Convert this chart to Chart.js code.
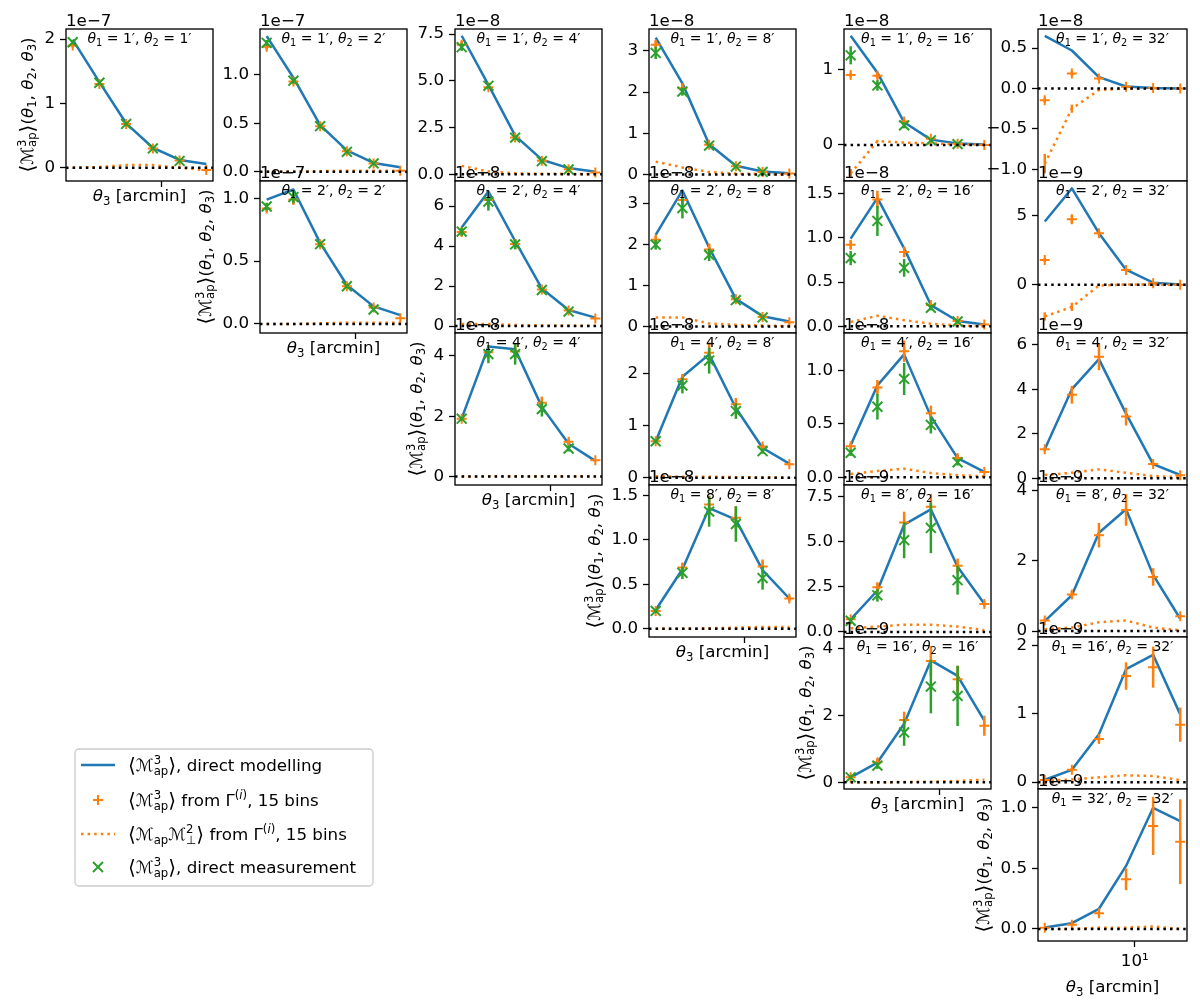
<!DOCTYPE html>
<html lang="en">
<head>
  <meta charset="utf-8" />
  <title>Map3 from Gamma vs direct modelling</title>
  <script src="https://cdn.jsdelivr.net/npm/chart.js@4.4.1/dist/chart.umd.min.js"></script>
  <style>
    body { margin: 0; background: #fff; }
    #fig { position: relative; width: 1200px; height: 1008px; overflow: hidden; background: #fff; }
    #fig canvas { position: absolute; }
  </style>
</head>
<body>
<div id="fig"></div>
<script>
// ---- data (values in units of the panel offset 1e-N) ----
const theta3 = [1, 2, 4, 8, 16, 32];
const panelThetas = [[1,1],[1,2],[1,4],[1,8],[1,16],[1,32],
                     [2,2],[2,4],[2,8],[2,16],[2,32],
                     [4,4],[4,8],[4,16],[4,32],
                     [8,8],[8,16],[8,32],
                     [16,16],[16,32],
                     [32,32]];
const offsetExp = [7,7,8,8,8,8, 7,8,8,8,9, 8,8,8,9, 8,9,9, 9,9, 9];

const yTickLabels = [
  ['0','1','2'], ['0.0','0.5','1.0'], ['0.0','2.5','5.0','7.5'], ['0','1','2','3'], ['0','1'], ['−1.0','−0.5','0.0','0.5'],
  ['0.0','0.5','1.0'], ['0','2','4','6'], ['0','1','2','3'], ['0.0','0.5','1.0','1.5'], ['0','5'],
  ['0','2','4'], ['0','1','2'], ['0.0','0.5','1.0'], ['0','2','4','6'],
  ['0.0','0.5','1.0','1.5'], ['0.0','2.5','5.0','7.5'], ['0','2','4'],
  ['0','2','4'], ['0','1','2'],
  ['0.0','0.5','1.0']
];
const yLimits = [
  [-0.207, 2.156], [-0.096, 1.473], [-0.36, 7.77], [-0.16, 3.53], [-0.48, 1.54], [-1.145, 0.736],
  [-0.072, 1.138], [-0.35, 7.25], [-0.16, 3.54], [-0.075, 1.64], [-3.5, 7.54],
  [-0.28, 4.76], [-0.14, 2.78], [-0.072, 1.35], [-0.3, 6.52],
  [-0.094, 1.62], [-0.28, 8.15], [-0.17, 4.16],
  [-0.2, 4.34], [-0.1, 2.12],
  [-0.1, 1.155]
];

// <Map^3>, direct modelling
const modelVals = [
  [1.99, 1.33, 0.69, 0.31, 0.12, 0.057],
  [1.40, 0.97, 0.48, 0.22, 0.09, 0.045],
  [7.41, 4.78, 2.07, 0.78, 0.33, 0.14],
  [3.32, 2.21, 0.73, 0.21, 0.07, 0.03],
  [1.45, 0.96, 0.30, 0.07, 0.02, 0.005],
  [0.65, 0.47, 0.14, 0.025, 0.006, 0.001],
  [0.99, 1.07, 0.645, 0.31, 0.14, 0.07],
  [4.93, 6.72, 4.25, 1.87, 0.80, 0.42],
  [2.23, 3.31, 1.92, 0.67, 0.25, 0.12],
  [0.99, 1.45, 0.88, 0.24, 0.06, 0.02],
  [4.6, 7.0, 3.75, 1.1, 0.15, 0.02],
  [1.93, 4.31, 4.22, 2.31, 1.09, 0.52],
  [0.70, 1.94, 2.37, 1.34, 0.57, 0.27],
  [0.30, 0.86, 1.15, 0.57, 0.18, 0.05],
  [1.30, 4.0, 5.35, 2.9, 0.64, 0.15],
  [0.21, 0.67, 1.36, 1.23, 0.66, 0.34],
  [0.7, 2.3, 5.95, 6.8, 3.62, 1.57],
  [0.28, 1.02, 2.8, 3.47, 1.6, 0.35],
  [0.15, 0.59, 1.75, 3.64, 3.18, 1.84],
  [0.035, 0.18, 0.70, 1.65, 1.86, 0.99],
  [0.012, 0.047, 0.166, 0.52, 1.0, 0.89]
];
// <Map^3> from Gamma, 15 bins
const gammaVals = [
  [1.90, 1.30, 0.68, 0.30, 0.11, -0.035],
  [1.29, 0.93, 0.47, 0.21, 0.085, 0.01],
  [6.93, 4.66, 1.96, 0.72, 0.27, 0.10],
  [3.15, 2.09, 0.72, 0.20, 0.06, 0.02],
  [0.93, 0.92, 0.31, 0.08, 0.015, 0.0],
  [-0.145, 0.186, 0.124, 0.02, 0.005, 0.0],
  [0.92, 0.99, 0.635, 0.30, 0.13, 0.045],
  [4.7, 6.3, 4.1, 1.82, 0.78, 0.37],
  [2.11, 3.08, 1.87, 0.66, 0.23, 0.10],
  [0.92, 1.43, 0.84, 0.24, 0.06, 0.02],
  [1.8, 4.76, 3.74, 1.08, 0.12, 0.0],
  [1.92, 4.12, 4.15, 2.45, 1.15, 0.54],
  [0.70, 1.89, 2.40, 1.41, 0.60, 0.26],
  [0.29, 0.84, 1.18, 0.60, 0.18, 0.05],
  [1.30, 3.75, 5.45, 2.77, 0.64, 0.14],
  [0.20, 0.69, 1.40, 1.25, 0.70, 0.34],
  [0.70, 2.48, 6.07, 6.95, 3.67, 1.55],
  [0.30, 1.04, 2.73, 3.45, 1.54, 0.42],
  [0.15, 0.60, 1.86, 3.62, 3.08, 1.69],
  [0.03, 0.18, 0.63, 1.55, 1.68, 0.84],
  [0.01, 0.035, 0.13, 0.41, 0.85, 0.72]
];
const gammaErr = [
  [0.03,0.03,0.02,0.01,0.01,0.005],
  [0.03,0.03,0.01,0.01,0.005,0.005],
  [0.2,0.15,0.1,0.05,0.02,0.01],
  [0.1,0.1,0.04,0.02,0.01,0.005],
  [0.03,0.04,0.03,0.01,0.005,0.002],
  [0.03,0.03,0.02,0.01,0.005,0.002],
  [0.03,0.04,0.03,0.02,0.01,0.005],
  [0.2,0.35,0.25,0.1,0.05,0.02],
  [0.1,0.12,0.15,0.05,0.03,0.01],
  [0.05,0.1,0.06,0.03,0.01,0.005],
  [0.15,0.3,0.2,0.1,0.05,0.02],
  [0.05,0.2,0.25,0.2,0.1,0.03],
  [0.03,0.1,0.2,0.12,0.05,0.02],
  [0.03,0.07,0.1,0.07,0.03,0.01],
  [0.1,0.4,0.6,0.4,0.1,0.05],
  [0.02,0.05,0.1,0.13,0.08,0.03],
  [0.1,0.25,0.6,0.7,0.4,0.15],
  [0.05,0.1,0.35,0.45,0.25,0.05],
  [0.03,0.1,0.25,0.45,0.4,0.3],
  [0.01,0.03,0.06,0.2,0.3,0.25],
  [0.005,0.01,0.03,0.09,0.24,0.35]
];
// <Map Mperp^2> from Gamma, 15 bins
const perpVals = [
  [0.0, 0.01, 0.04, 0.04, 0.0, -0.04],
  [0.0, 0.0, 0.005, 0.01, 0.01, 0.01],
  [0.45, 0.15, 0.05, 0.03, 0.02, 0.02],
  [0.31, 0.17, 0.06, 0.02, 0.01, 0.0],
  [-0.38, 0.05, 0.03, 0.02, 0.01, 0.0],
  [-0.93, -0.25, -0.02, 0.0, 0.0, 0.0],
  [0.0, 0.0, 0.005, 0.01, 0.01, 0.01],
  [0.1, 0.1, 0.05, 0.02, 0.02, 0.01],
  [0.22, 0.22, 0.07, 0.04, 0.02, 0.01],
  [0.05, 0.12, 0.07, 0.03, 0.01, 0.0],
  [-2.3, -1.6, -0.05, 0.02, 0.02, 0.0],
  [0.0, 0.01, 0.01, 0.01, 0.01, 0.01],
  [0.03, 0.02, 0.02, 0.01, 0.01, 0.0],
  [0.03, 0.06, 0.08, 0.04, 0.02, 0.01],
  [0.15, 0.25, 0.4, 0.25, 0.1, 0.05],
  [0.0, 0.0, 0.005, 0.01, 0.02, 0.02],
  [0.2, 0.3, 0.4, 0.4, 0.3, 0.1],
  [0.05, 0.1, 0.25, 0.3, 0.1, 0.02],
  [0.0, 0.0, 0.01, 0.02, 0.04, 0.08],
  [0.02, 0.04, 0.07, 0.1, 0.09, 0.03],
  [0.0, 0.0, 0.01, 0.01, 0.02, 0.0]
];
const perpErr = [
  null, null, null, null, [0.06,0.01,0,0,0,0], [0.12,0.05,0.01,0,0,0],
  null, null, null, null, [0.3,0.3,0.05,0,0,0],
  null, null, null, null,
  null, null, null,
  null, null,
  null
];
// <Map^3>, direct measurement (no measurement for theta2 = 32')
const measVals = [
  [1.95, 1.32, 0.68, 0.30, 0.105],
  [1.33, 0.94, 0.47, 0.205, 0.085],
  [6.80, 4.73, 1.96, 0.70, 0.26],
  [2.95, 2.01, 0.70, 0.19, 0.06],
  [1.19, 0.79, 0.26, 0.06, 0.01],
  null,
  [0.935, 1.01, 0.635, 0.30, 0.115],
  [4.72, 6.22, 4.08, 1.8, 0.72],
  [1.99, 2.88, 1.74, 0.64, 0.22],
  [0.77, 1.19, 0.66, 0.21, 0.055],
  null,
  [1.92, 4.06, 4.06, 2.24, 0.93],
  [0.70, 1.77, 2.25, 1.28, 0.51],
  [0.23, 0.66, 0.92, 0.49, 0.14],
  null,
  [0.20, 0.63, 1.32, 1.18, 0.57],
  [0.62, 2.03, 5.09, 5.77, 2.87],
  null,
  [0.15, 0.50, 1.49, 2.86, 2.58],
  null,
  null
];
const measErr = [
  [0.03,0.03,0.02,0.01,0.01],
  [0.03,0.03,0.02,0.01,0.005],
  [0.2,0.15,0.1,0.04,0.02],
  [0.15,0.1,0.04,0.02,0.01],
  [0.12,0.07,0.04,0.02,0.01],
  null,
  [0.03,0.05,0.02,0.01,0.01],
  [0.2,0.45,0.25,0.1,0.05],
  [0.12,0.25,0.15,0.05,0.03],
  [0.08,0.17,0.1,0.03,0.01],
  null,
  [0.05,0.3,0.35,0.25,0.1],
  [0.03,0.15,0.25,0.15,0.05],
  [0.03,0.12,0.15,0.08,0.03],
  null,
  [0.02,0.07,0.17,0.2,0.13],
  [0.15,0.35,1.0,1.4,0.8],
  null,
  [0.05,0.1,0.4,0.8,0.9],
  null,
  null
];

// ---- styling / layout ----
const BLUE = '#1f77b4', ORANGE = '#ff7f0e', GREEN = '#2ca02c';
const FAMILY = '"DejaVu Sans", sans-serif';
const FS = 16.7;          // 10pt
const FS_SMALL = 14;      // panel annotation
const PAD_L = 80, PAD_R = 6, PAD_T = 24, PAD_B = 62;
const PW = 150, PH = 152;
const DOTS = [2.5, 4.1];

// matplotlib-like 5% margins on a log axis
const lgLo = Math.log10(theta3[0]), lgHi = Math.log10(theta3[theta3.length - 1]);
const X_MIN = Math.pow(10, lgLo - 0.05 * (lgHi - lgLo));
const X_MAX = Math.pow(10, lgHi + 0.05 * (lgHi - lgLo));

function fontOf(size, it) {
  return (it ? 'italic ' : '') + size + 'px ' + FAMILY;
}

// tiny rich-text helper: tokens {t, it, sc, sup:[...], sub:[...]}
function richWidth(ctx, toks, size) {
  let w = 0;
  for (const tk of toks) {
    ctx.font = fontOf(size * (tk.sc || 1), tk.it);
    w += ctx.measureText(tk.t || '').width;
    let sw = 0;
    if (tk.sup) sw = Math.max(sw, richWidth(ctx, tk.sup, size * 0.7));
    if (tk.sub) sw = Math.max(sw, richWidth(ctx, tk.sub, size * 0.7));
    w += sw;
  }
  return w;
}
function richDraw(ctx, toks, x, y, size) {
  for (const tk of toks) {
    const s = size * (tk.sc || 1);
    ctx.font = fontOf(s, tk.it);
    const t = tk.t || '';
    ctx.fillText(t, x, y + (s - size) * 0.25);
    x += ctx.measureText(t).width;
    let sw = 0;
    if (tk.sup) sw = Math.max(sw, richDraw(ctx, tk.sup, x, y - size * 0.42, size * 0.7) - x);
    if (tk.sub) sw = Math.max(sw, richDraw(ctx, tk.sub, x, y + size * 0.22, size * 0.7) - x);
    x += sw;
  }
  return x;
}

const TH = n => ({t: 'θ', it: true, sub: [{t: String(n)}]});
const LA = {t: '⟨', sc: 1.2}, RA = {t: '⟩', sc: 1.2};
const MAP3 = {t: 'ℳ', sup: [{t: '3'}], sub: [{t: 'ap'}]};
const GAMMA_I = {t: 'Γ', sup: [{t: '('}, {t: 'i', it: true}, {t: ')'}]};
const yLabelToks = [LA, MAP3, RA, {t: '('}, TH(1), {t: ', '}, TH(2), {t: ', '}, TH(3), {t: ')'}];
const xLabelToks = [TH(3), {t: ' [arcmin]'}];

const pts = vals => vals.map((v, i) => ({x: theta3[i], y: v}));
const fig = document.getElementById('fig');

panelThetas.forEach((pair, k) => {
  const row = Math.log2(pair[0]), col = Math.log2(pair[1]);
  const left = Math.round(65.8 + 194.5 * col);
  const top = Math.round(29.3 + 151.9 * row);
  const diag = row === col;
  const lastRow = row === 5;
  const labels = yTickLabels[k];

  const canvas = document.createElement('canvas');
  canvas.width = PAD_L + PW + PAD_R;
  canvas.height = PAD_T + PH + PAD_B;
  canvas.style.left = (left - PAD_L) + 'px';
  canvas.style.top = (top - PAD_T) + 'px';
  canvas.style.width = canvas.width + 'px';
  canvas.style.height = canvas.height + 'px';
  fig.appendChild(canvas);

  const datasets = [
    {data: pts(modelVals[k]), borderColor: BLUE, borderWidth: 2.5, borderJoinStyle: 'round',
     pointRadius: 0, tension: 0, fill: false, order: 4},
    {data: pts(gammaVals[k]), errs: gammaErr[k], showLine: false, borderColor: ORANGE,
     pointStyle: 'cross', pointRadius: 5, pointBorderWidth: 2, pointBorderColor: ORANGE,
     pointBackgroundColor: ORANGE, order: 3},
    {data: pts(perpVals[k]), errs: perpErr[k], borderColor: ORANGE, borderWidth: 2.5,
     borderDash: DOTS, pointRadius: 0, tension: 0, fill: false, order: 2}
  ];
  if (measVals[k]) {
    datasets.push({data: pts(measVals[k]), errs: measErr[k], showLine: false, borderColor: GREEN,
      pointStyle: 'crossRot', pointRadius: 7, pointBorderWidth: 2, pointBorderColor: GREEN,
      pointBackgroundColor: GREEN, order: 1});
  }

  const decor = {
    id: 'decor' + k,
    beforeDraw(chart) {
      const a = chart.chartArea, ctx = chart.ctx;
      ctx.save();
      ctx.fillStyle = '#fff';
      ctx.fillRect(a.left, a.top, a.right - a.left, a.bottom - a.top);
      ctx.restore();
    },
    afterDatasetDraw(chart, args) {
      const ds = chart.data.datasets[args.index];
      if (!ds.errs) return;
      const a = chart.chartArea, ctx = chart.ctx, ys = chart.scales.y;
      ctx.save();
      ctx.beginPath();
      ctx.rect(a.left, a.top, a.right - a.left, a.bottom - a.top);
      ctx.clip();
      ctx.strokeStyle = ds.borderColor;
      ctx.lineWidth = 2.5;
      args.meta.data.forEach((p, i) => {
        const e = ds.errs[i];
        if (!e) return;
        const v = ds.data[i].y;
        ctx.beginPath();
        ctx.moveTo(p.x, ys.getPixelForValue(v - e));
        ctx.lineTo(p.x, ys.getPixelForValue(v + e));
        ctx.stroke();
      });
      ctx.restore();
    },
    afterDatasetsDraw(chart) {
      const a = chart.chartArea, ctx = chart.ctx, ys = chart.scales.y;
      ctx.save();
      // y = 0 reference line
      const y0 = ys.getPixelForValue(0);
      ctx.strokeStyle = '#000';
      ctx.lineWidth = 2.5;
      ctx.setLineDash(DOTS);
      ctx.beginPath();
      ctx.moveTo(a.left, y0);
      ctx.lineTo(a.right, y0);
      ctx.stroke();
      ctx.setLineDash([]);
      // frame
      ctx.lineWidth = 1.33;
      ctx.strokeRect(a.left, a.top, a.right - a.left, a.bottom - a.top);
      ctx.restore();
    },
    afterDraw(chart) {
      const a = chart.chartArea, ctx = chart.ctx;
      ctx.save();
      ctx.fillStyle = '#000';
      ctx.textAlign = 'left';
      ctx.textBaseline = 'alphabetic';
      // offset text
      ctx.font = fontOf(FS, false);
      ctx.fillText('1e−' + offsetExp[k], a.left, a.top - 3);
      // panel annotation
      const ann = [TH(1), {t: ' = ' + pair[0] + '′, '}, TH(2), {t: ' = ' + pair[1] + '′'}];
      const cx = (a.left + a.right) / 2;
      const wA = richWidth(ctx, ann, FS_SMALL);
      richDraw(ctx, ann, cx - wA / 2, a.top + 14, FS_SMALL);
      if (diag) {
        const wX = richWidth(ctx, xLabelToks, FS);
        richDraw(ctx, xLabelToks, cx - wX / 2, a.bottom + (lastRow ? 51 : 20), FS);
        ctx.font = fontOf(FS, false);
        let maxW = 0;
        labels.forEach(l => { maxW = Math.max(maxW, ctx.measureText(l).width); });
        const lx = a.left - 6 - 5 - maxW - 6.7 - 10;
        const ly = (a.top + a.bottom) / 2;
        const wY = richWidth(ctx, yLabelToks, FS);
        ctx.translate(lx, ly);
        ctx.rotate(-Math.PI / 2);
        richDraw(ctx, yLabelToks, -wY / 2, FS * 0.3, FS);
      }
      ctx.restore();
    }
  };

  new Chart(canvas, {
    type: 'line',
    data: {datasets: datasets},
    options: {
      responsive: false,
      animation: false,
      devicePixelRatio: 1,
      events: [],
      layout: {padding: {left: 0, right: PAD_R, top: PAD_T, bottom: 0}},
      plugins: {legend: {display: false}, tooltip: {enabled: false}},
      scales: {
        x: {
          type: 'logarithmic', min: X_MIN, max: X_MAX,
          afterBuildTicks: s => { s.ticks = [{value: 10}]; },
          afterFit: s => { s.height = PAD_B; },
          grid: {drawOnChartArea: false, drawTicks: true, tickLength: 6, tickWidth: 1.3, tickColor: '#000'},
          border: {display: false},
          ticks: {display: lastRow, autoSkip: false, maxRotation: 0, padding: 5, color: '#000',
                  font: {family: FAMILY, size: FS}, callback: () => '10¹'}
        },
        y: {
          type: 'linear', min: yLimits[k][0], max: yLimits[k][1],
          afterBuildTicks: s => { s.ticks = labels.map(l => ({value: parseFloat(l.replace('−', '-'))})); },
          afterFit: s => { s.width = PAD_L; },
          grid: {drawOnChartArea: false, drawTicks: true, tickLength: 6, tickWidth: 1.3, tickColor: '#000'},
          border: {display: false},
          ticks: {autoSkip: false, padding: 5, color: '#000', font: {family: FAMILY, size: FS},
                  callback: (v, i) => labels[i]}
        }
      }
    },
    plugins: [decor]
  });
});

// ---- legend, drawn in its own small chart ----
const legendItems = [
  {kind: 'line', color: BLUE, toks: [LA, MAP3, RA, {t: ', direct modelling'}]},
  {kind: 'cross', color: ORANGE, toks: [LA, MAP3, RA, {t: ' from '}, GAMMA_I, {t: ', 15 bins'}]},
  {kind: 'dots', color: ORANGE, toks: [LA, {t: 'ℳ', sub: [{t: 'ap'}]}, {t: 'ℳ', sup: [{t: '2'}], sub: [{t: '⊥'}]}, RA, {t: ' from '}, GAMMA_I, {t: ', 15 bins'}]},
  {kind: 'crossRot', color: GREEN, toks: [LA, MAP3, RA, {t: ', direct measurement'}]}
];
const legCanvas = document.createElement('canvas');
legCanvas.width = 330; legCanvas.height = 170;
legCanvas.style.left = '60px'; legCanvas.style.top = '735px';
legCanvas.style.width = '330px'; legCanvas.style.height = '170px';
fig.appendChild(legCanvas);

new Chart(legCanvas, {
  type: 'line',
  data: {datasets: []},
  options: {
    responsive: false, animation: false, devicePixelRatio: 1, events: [],
    plugins: {legend: {display: false}, tooltip: {enabled: false}},
    scales: {x: {display: false}, y: {display: false}}
  },
  plugins: [{
    id: 'boxLegend',
    afterDraw(chart) {
      const ctx = chart.ctx;
      const x0 = 15, y0 = 14, x1 = 313, y1 = 151, r = 4;
      ctx.save();
      ctx.beginPath();
      ctx.moveTo(x0 + r, y0);
      ctx.arcTo(x1, y0, x1, y1, r);
      ctx.arcTo(x1, y1, x0, y1, r);
      ctx.arcTo(x0, y1, x0, y0, r);
      ctx.arcTo(x0, y0, x1, y0, r);
      ctx.closePath();
      ctx.fillStyle = 'rgba(255,255,255,0.8)';
      ctx.fill();
      ctx.strokeStyle = '#cccccc';
      ctx.lineWidth = 1.33;
      ctx.stroke();
      const rowsY = [30, 65, 99, 132];
      legendItems.forEach((it, i) => {
        const y = rowsY[i];
        ctx.strokeStyle = it.color;
        ctx.lineWidth = 2.5;
        ctx.setLineDash(it.kind === 'dots' ? DOTS : []);
        ctx.beginPath();
        if (it.kind === 'line' || it.kind === 'dots') {
          ctx.moveTo(21, y); ctx.lineTo(55, y);
        } else if (it.kind === 'cross') {
          ctx.lineWidth = 2;
          ctx.moveTo(33, y); ctx.lineTo(43, y);
          ctx.moveTo(38, y - 5); ctx.lineTo(38, y + 5);
        } else {
          ctx.lineWidth = 2;
          ctx.moveTo(33, y - 5); ctx.lineTo(43, y + 5);
          ctx.moveTo(33, y + 5); ctx.lineTo(43, y - 5);
        }
        ctx.stroke();
        ctx.setLineDash([]);
        ctx.fillStyle = '#000';
        ctx.textAlign = 'left';
        ctx.textBaseline = 'alphabetic';
        richDraw(ctx, it.toks, 68, y + 6, FS);
      });
      ctx.restore();
    }
  }]
});
</script>
</body>
</html>
